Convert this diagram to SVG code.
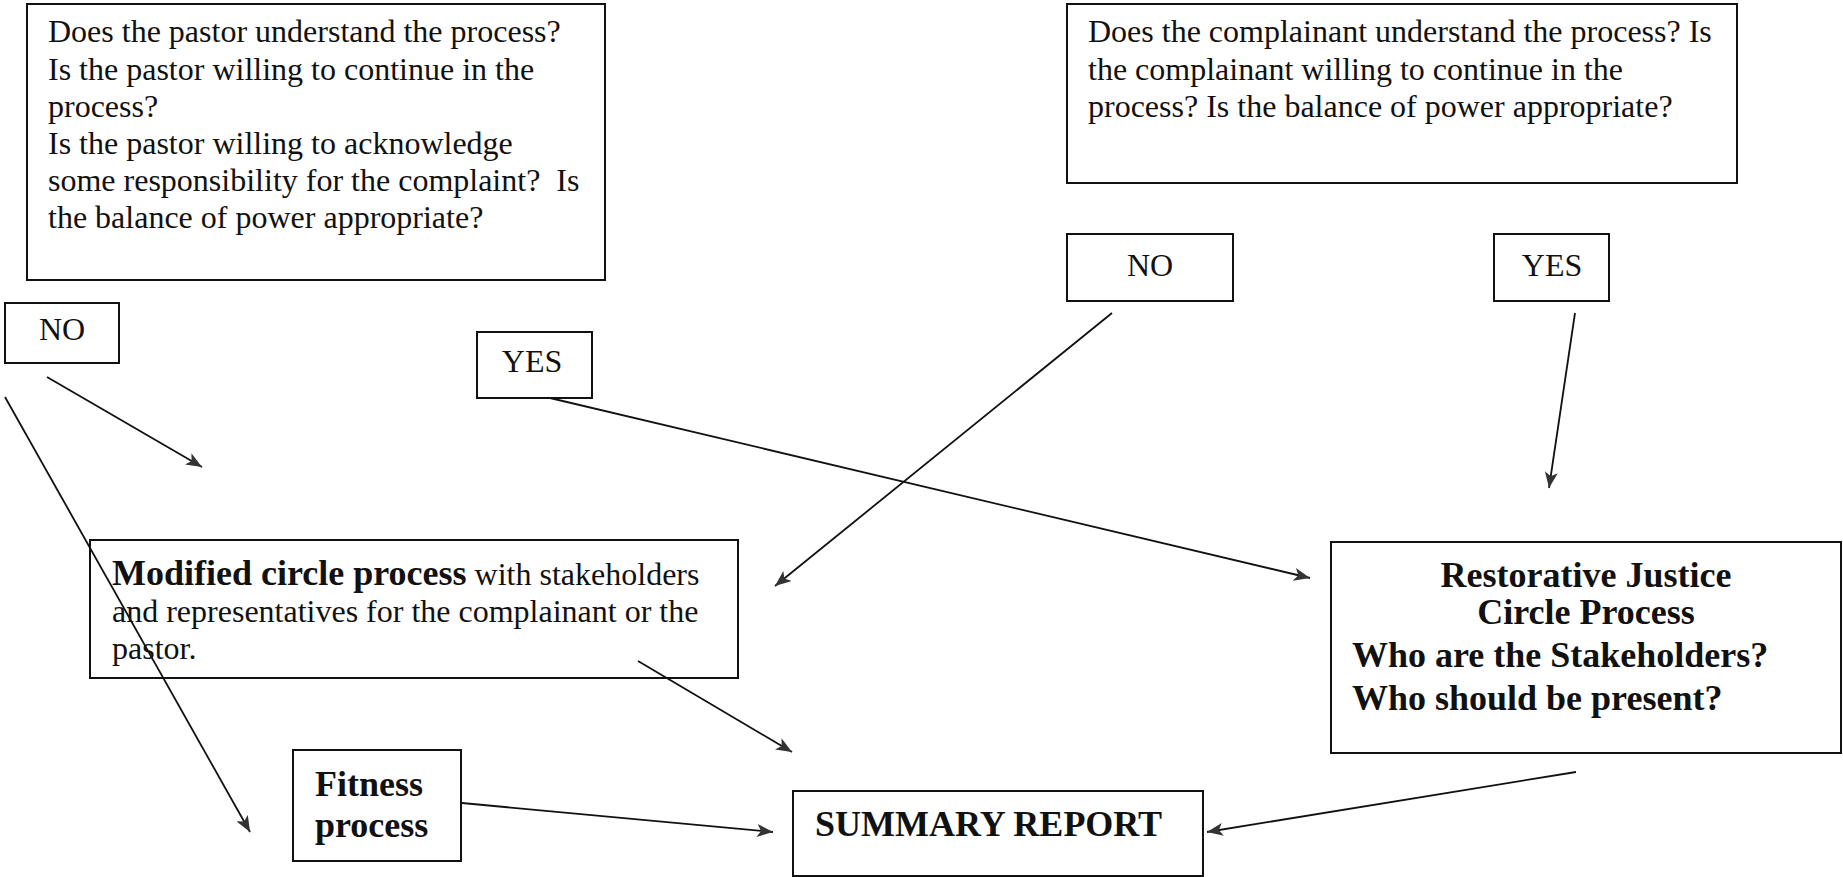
<svg xmlns="http://www.w3.org/2000/svg" width="1843" height="877" viewBox="0 0 1843 877">
<style>
.box{fill:#fff;stroke:#111;stroke-width:2}
.t{font-family:"Liberation Serif","Times New Roman",serif;font-size:32px;fill:#111}
.b{font-family:"Liberation Serif","Times New Roman",serif;font-size:36px;font-weight:bold;fill:#111}
.c{stroke:#111;stroke-width:1.8;fill:none;marker-end:url(#ah)}
</style>
<defs>
<marker id="ah" markerUnits="userSpaceOnUse" markerWidth="17" markerHeight="13" refX="16" refY="6.5" orient="auto">
<path d="M0,0 L16,6.5 L0,13 L4,6.5 z" fill="#333"/>
</marker>
</defs>
<rect width="1843" height="877" fill="#fff"/>
<g id="pastor-questions">
<rect class="box" x="27" y="4" width="578" height="276"/>
<text class="t" x="48" y="42">Does the pastor understand the process?</text>
<text class="t" x="48" y="80">Is the pastor willing to continue in the</text>
<text class="t" x="48" y="117">process?</text>
<text class="t" x="48" y="154">Is the pastor willing to acknowledge</text>
<text class="t" x="48" y="191" xml:space="preserve">some responsibility for the complaint?  Is</text>
<text class="t" x="48" y="228">the balance of power appropriate?</text>
</g>
<g id="complainant-questions">
<rect class="box" x="1067" y="4" width="670" height="179"/>
<text class="t" x="1088" y="42">Does the complainant understand the process? Is</text>
<text class="t" x="1088" y="80">the complainant willing to continue in the</text>
<text class="t" x="1088" y="117">process? Is the balance of power appropriate?</text>
</g>
<g id="no-left">
<rect class="box" x="5" y="303" width="114" height="60"/>
<text class="t" x="62" y="340" text-anchor="middle">NO</text>
</g>
<g id="yes-left">
<rect class="box" x="477" y="332" width="115" height="66"/>
<text class="t" x="532" y="372" text-anchor="middle">YES</text>
</g>
<g id="no-right">
<rect class="box" x="1067" y="234" width="166" height="67"/>
<text class="t" x="1150" y="276" text-anchor="middle">NO</text>
</g>
<g id="yes-right">
<rect class="box" x="1494" y="234" width="115" height="67"/>
<text class="t" x="1552" y="276" text-anchor="middle">YES</text>
</g>
<g id="modified-circle">
<rect class="box" x="90" y="540" width="648" height="138"/>
<text x="112" y="585"><tspan class="b">Modified circle process</tspan><tspan class="t"> with stakeholders</tspan></text>
<text class="t" x="112" y="622">and representatives for the complainant or the</text>
<text class="t" x="112" y="659">pastor.</text>
</g>
<g id="restorative-justice">
<rect class="box" x="1331" y="542" width="510" height="211"/>
<text class="b" x="1586" y="587" text-anchor="middle">Restorative Justice</text>
<text class="b" x="1586" y="624" text-anchor="middle">Circle Process</text>
<text class="b" x="1352" y="667">Who are the Stakeholders?</text>
<text class="b" x="1352" y="710">Who should be present?</text>
</g>
<g id="fitness">
<rect class="box" x="293" y="750" width="168" height="111"/>
<text class="b" x="315" y="796">Fitness</text>
<text class="b" x="315" y="837">process</text>
</g>
<g id="summary">
<rect class="box" x="793" y="791" width="410" height="85"/>
<text class="b" x="815" y="836">SUMMARY REPORT</text>
</g>
<g id="connectors">
<line class="c" x1="47" y1="377" x2="202" y2="467"/>
<line class="c" x1="5" y1="397" x2="250" y2="832"/>
<line class="c" x1="550" y1="398" x2="1310" y2="578"/>
<line class="c" x1="1112" y1="313" x2="775" y2="586"/>
<line class="c" x1="1575" y1="313" x2="1549" y2="488"/>
<line class="c" x1="638" y1="661" x2="792" y2="752"/>
<line class="c" x1="462" y1="803" x2="773" y2="832"/>
<line class="c" x1="1576" y1="772" x2="1207" y2="832"/>
</g>
</svg>
